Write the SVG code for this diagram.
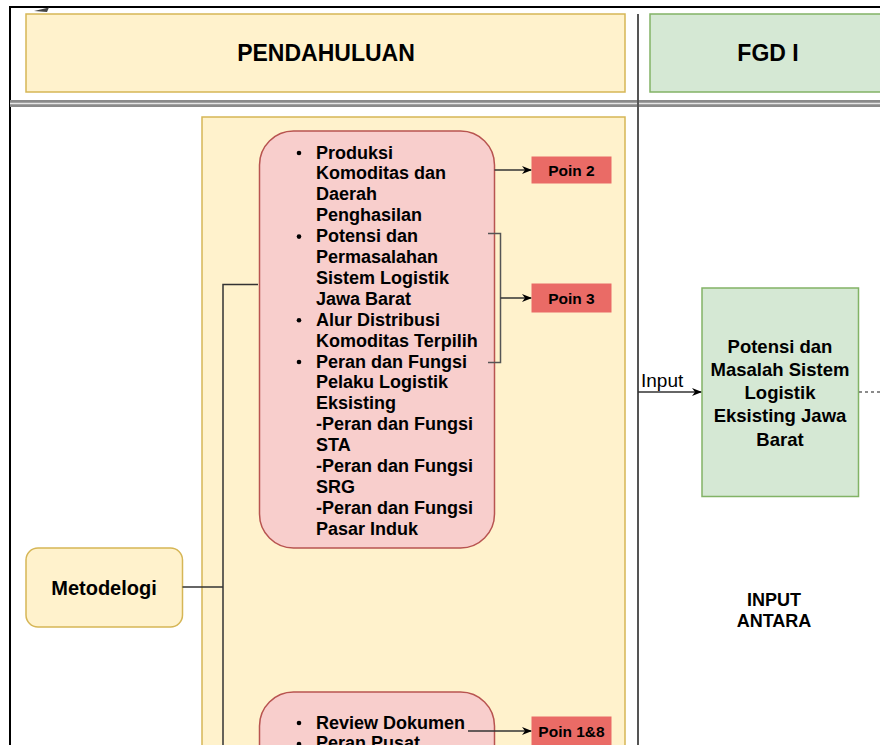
<svg xmlns="http://www.w3.org/2000/svg" width="880" height="745" viewBox="0 0 880 745">
<defs>
<style>
.yel{fill:#fff2cc;stroke:#d6b656;stroke-width:1.5}
.grn{fill:#d5e8d4;stroke:#82b366;stroke-width:1.5}
.pnk{fill:#f8cecc;stroke:#b85450;stroke-width:1.5}
.red{fill:#ea6b66;stroke:#ea6b66;stroke-width:1}
.t{font-family:"Liberation Sans",Arial,sans-serif;font-weight:bold;fill:#000}
.c{text-anchor:middle}
.edge{fill:none;stroke:#333;stroke-width:1.5}
</style>
<marker id="arr" viewBox="0 0 10 8" refX="9" refY="4" markerWidth="10" markerHeight="8" markerUnits="userSpaceOnUse" orient="auto">
<path d="M0,0 L10,4 L0,8 L3,4 z" fill="#000"/>
</marker>
</defs>
<rect x="0" y="0" width="880" height="745" fill="#fff"/>
<g id="frame">
<path d="M10,745 V7 H880" fill="none" stroke="#000" stroke-width="2"/>
<path d="M34,11 L49,7.5 L47,12 Z" fill="#444"/>
</g>
<g id="header-pendahuluan">
<rect class="yel" x="26" y="14" width="599" height="78"/>
<text class="t c" x="326" y="61" font-size="23">PENDAHULUAN</text>
</g>
<g id="header-fgd">
<rect class="grn" x="650" y="14" width="240" height="78"/>
<text class="t c" x="768" y="61" font-size="23">FGD I</text>
</g>
<g id="separators">
<rect x="10" y="100" width="870" height="7" fill="#8a8a8a"/>
<line x1="10" y1="103.5" x2="880" y2="103.5" stroke="#e6e6e6" stroke-width="1.5"/>
<line x1="638" y1="14" x2="638" y2="745" stroke="#555" stroke-width="2"/>
</g>
<g id="container">
<rect class="yel" x="202" y="117" width="423" height="640"/>
</g>
<g id="pink1">
<rect class="pnk" x="259.5" y="131" width="235" height="417" rx="34" ry="34"/>
<g class="t" font-size="18">
<text x="316" y="158.5">Produksi</text>
<text x="316" y="179.4">Komoditas dan</text>
<text x="316" y="200.3">Daerah</text>
<text x="316" y="221.2">Penghasilan</text>
<text x="316" y="242.1">Potensi dan</text>
<text x="316" y="263">Permasalahan</text>
<text x="316" y="283.9">Sistem Logistik</text>
<text x="316" y="304.8">Jawa Barat</text>
<text x="316" y="325.7">Alur Distribusi</text>
<text x="316" y="346.6">Komoditas Terpilih</text>
<text x="316" y="367.5">Peran dan Fungsi</text>
<text x="316" y="388.4">Pelaku Logistik</text>
<text x="316" y="409.3">Eksisting</text>
<text x="316" y="430.2">-Peran dan Fungsi</text>
<text x="316" y="451.1">STA</text>
<text x="316" y="472">-Peran dan Fungsi</text>
<text x="316" y="492.9">SRG</text>
<text x="316" y="513.8">-Peran dan Fungsi</text>
<text x="316" y="534.7">Pasar Induk</text>
</g>
<circle cx="299" cy="153" r="2.3" fill="#000"/>
<circle cx="299" cy="236.6" r="2.3" fill="#000"/>
<circle cx="299" cy="320.2" r="2.3" fill="#000"/>
<circle cx="299" cy="362" r="2.3" fill="#000"/>
</g>
<g id="pink2">
<rect class="pnk" x="259.5" y="692" width="235" height="120" rx="34" ry="34"/>
<g class="t" font-size="18">
<text x="316" y="728.5">Review Dokumen</text>
<text x="316" y="749.4">Peran Pusat</text>
</g>
<circle cx="299" cy="723" r="2.3" fill="#000"/>
<circle cx="299" cy="744" r="2.3" fill="#000"/>
</g>
<g id="poin2">
<rect class="red" x="532" y="157" width="79" height="26"/>
<text class="t c" x="571.5" y="175.5" font-size="15.5">Poin 2</text>
</g>
<g id="poin3">
<rect class="red" x="532" y="284" width="79" height="28"/>
<text class="t c" x="571.5" y="303.5" font-size="15.5">Poin 3</text>
</g>
<g id="poin18">
<rect class="red" x="532" y="717" width="79" height="28"/>
<text class="t c" x="571.5" y="736.5" font-size="15.5">Poin 1&amp;8</text>
</g>
<g id="metodelogi">
<rect class="yel" x="26" y="548" width="156.5" height="79" rx="12" ry="12"/>
<text class="t c" x="104" y="595" font-size="20">Metodelogi</text>
</g>
<g id="potensi-masalah">
<rect class="grn" x="702" y="288" width="156.5" height="208.5"/>
<g class="t c" font-size="18.5">
<text x="780" y="352.5">Potensi dan</text>
<text x="780" y="375.8">Masalah Sistem</text>
<text x="780" y="399.1">Logistik</text>
<text x="780" y="422.4">Eksisting Jawa</text>
<text x="780" y="445.7">Barat</text>
</g>
</g>
<g id="input-antara">
<text class="t c" x="774" y="605.5" font-size="18">INPUT</text>
<text class="t c" x="774" y="627" font-size="18">ANTARA</text>
</g>
<g id="connectors">
<path class="edge" d="M182.5,587 H223"/>
<path class="edge" d="M223,745 V284.5 H258"/>
<path class="edge" d="M494.5,170 H531" marker-end="url(#arr)"/>
<path d="M488,233.5 H500.5 V362.5 H488" fill="none" stroke="#555" stroke-width="1.5"/>
<path class="edge" d="M500.5,298 H531" marker-end="url(#arr)"/>
<path class="edge" d="M468,731 H531" marker-end="url(#arr)"/>
<path class="edge" d="M638,392 H701" marker-end="url(#arr)"/>
<text x="641" y="387" font-family="'Liberation Sans',Arial,sans-serif" font-size="19" fill="#000">Input</text>
<path d="M859,392 H880" fill="none" stroke="#666" stroke-width="1.5" stroke-dasharray="3 3"/>
</g>
</svg>
